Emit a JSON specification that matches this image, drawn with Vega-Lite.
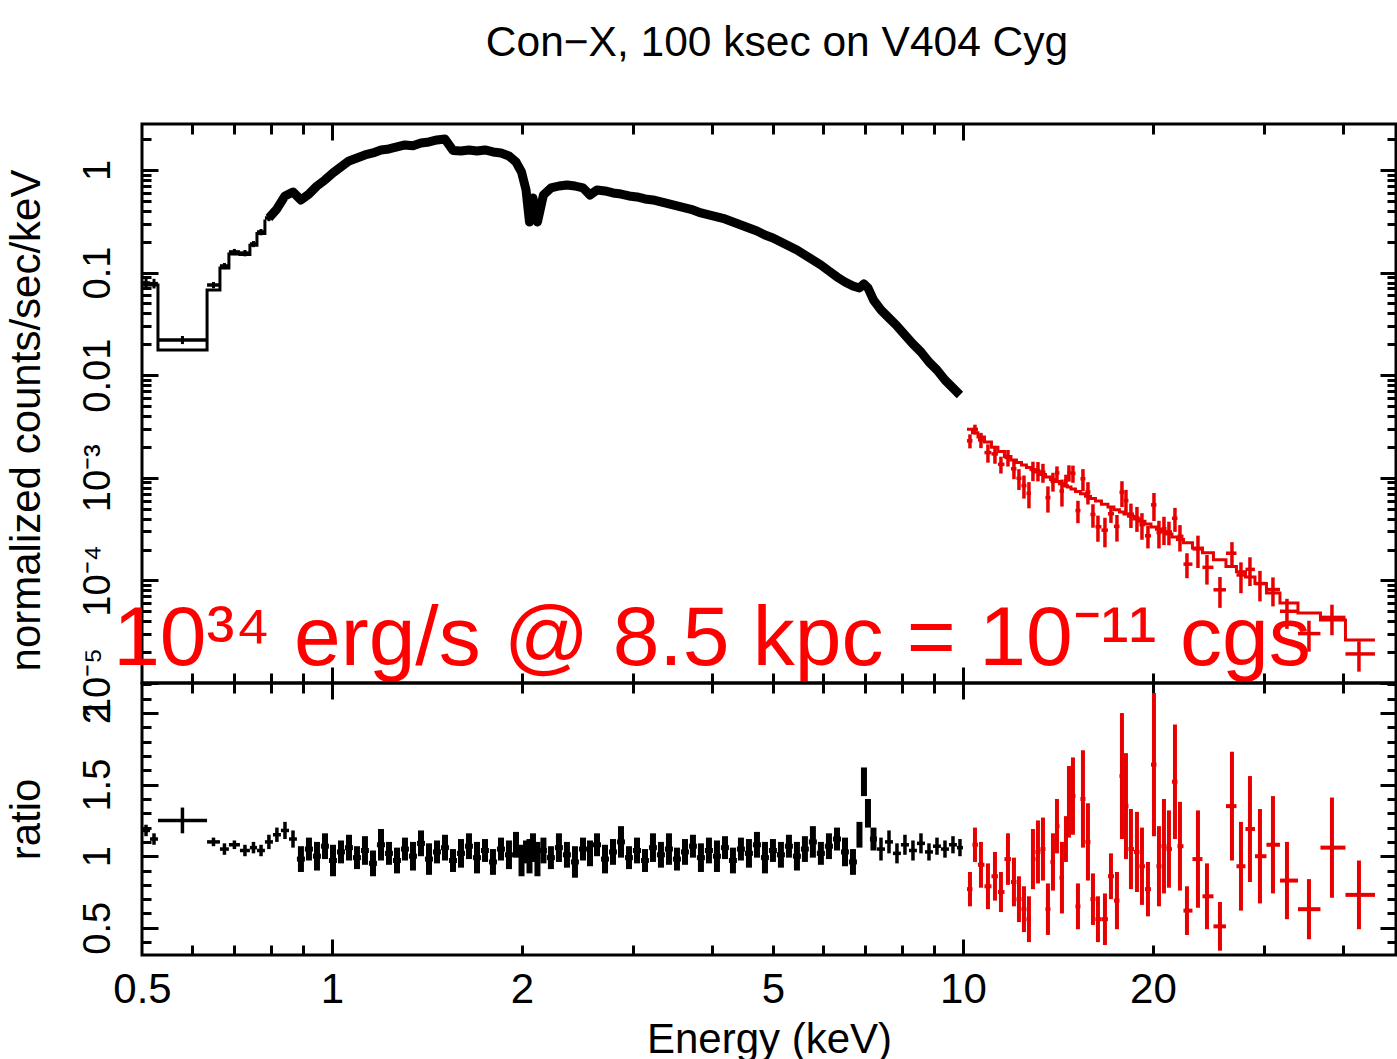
{
  "$schema": "https://vega.github.io/schema/vega-lite/v6.json",
  "background": "white",
  "padding": {"left": 3, "top": 20, "right": 0, "bottom": 0},
  "config": {
    "view": {"stroke": "black", "strokeWidth": 3},
    "font": "Liberation Sans",
    "axis": {"domain": false, "grid": false, "tickColor": "black", "tickWidth": 3, "tickCap": "butt", "labelColor": "black", "titleColor": "black", "labelFont": "Liberation Sans", "titleFont": "Liberation Sans", "labelFontSize": 38, "titleFontSize": 42, "titleFontWeight": "normal", "labelOverlap": false, "labelFlush": false}
  },
  "datasets": {
    "black": [
      {"el":0.5,"eh":0.5148,"e":0.5074,"f":0.0792,"fl":0.0708,"fh":0.089,"m":0.0757,"r":1.18,"rl":1.14,"rh":1.22},
      {"el":0.5148,"eh":0.53,"e":0.5224,"f":0.078,"fl":0.07,"fh":0.087,"m":0.0757,"r":1.12,"rl":1.08,"rh":1.16},
      {"el":0.53,"eh":0.634,"e":0.5795,"f":0.022,"fl":0.0201,"fh":0.0241,"m":0.0176,"r":1.25,"rl":1.16,"rh":1.34},
      {"el":0.634,"eh":0.6645,"e":0.649,"f":0.0757,"fl":0.0704,"fh":0.081,"m":0.0677,"r":1.1,"rl":1.07,"rh":1.13},
      {"el":0.6645,"eh":0.6866,"e":0.6755,"f":0.116,"fl":0.108,"fh":0.124,"m":0.111,"r":1.05,"rl":1.01,"rh":1.09},
      {"el":0.6866,"eh":0.7148,"e":0.7005,"f":0.159,"fl":0.148,"fh":0.17,"m":0.152,"r":1.08,"rl":1.05,"rh":1.11},
      {"el":0.7148,"eh":0.7413,"e":0.728,"f":0.155,"fl":0.144,"fh":0.166,"m":0.15,"r":1.04,"rl":1.0,"rh":1.08},
      {"el":0.7413,"eh":0.7606,"e":0.751,"f":0.19,"fl":0.177,"fh":0.203,"m":0.185,"r":1.06,"rl":1.02,"rh":1.1},
      {"el":0.7606,"eh":0.783,"e":0.772,"f":0.2487,"fl":0.231,"fh":0.266,"m":0.24,"r":1.04,"rl":1.0,"rh":1.08},
      {"el":0.783,"eh":0.8063,"e":0.7945,"f":0.3404,"fl":0.317,"fh":0.364,"m":0.33,"r":1.1,"rl":1.05,"rh":1.15},
      {"el":0.8063,"eh":0.8301,"e":0.818,"f":0.4169,"r":1.15,"rl":1.1,"rh":1.2},
      {"el":0.8301,"eh":0.8549,"e":0.8425,"f":0.558,"r":1.18,"rl":1.12,"rh":1.24},
      {"el":0.8549,"eh":0.88,"e":0.8675,"f":0.61,"r":1.12,"rl":1.06,"rh":1.18},
      {"el":0.88,"eh":0.906,"e":0.893,"f":0.51,"r":0.98,"rl":0.89,"rh":1.07},
      {"el":0.906,"eh":0.933,"e":0.9195,"f":0.583,"r":1.05,"rl":0.97,"rh":1.13},
      {"el":0.933,"eh":0.9606,"e":0.9468,"f":0.698,"r":1.0,"rl":0.9,"rh":1.1},
      {"el":0.9606,"eh":0.9891,"e":0.9749,"f":0.799,"r":1.07,"rl":0.98,"rh":1.16},
      {"el":0.9891,"eh":1.0184,"e":1.0038,"f":0.935,"r":0.97,"rl":0.86,"rh":1.08},
      {"el":1.0184,"eh":1.0486,"e":1.0335,"f":1.07,"r":1.03,"rl":0.95,"rh":1.11},
      {"el":1.0486,"eh":1.0796,"e":1.0641,"f":1.224,"r":1.06,"rl":0.97,"rh":1.15},
      {"el":1.0796,"eh":1.1116,"e":1.0956,"f":1.309,"r":0.99,"rl":0.91,"rh":1.07},
      {"el":1.1116,"eh":1.1445,"e":1.128,"f":1.4,"r":1.04,"rl":0.94,"rh":1.14},
      {"el":1.1445,"eh":1.1784,"e":1.1615,"f":1.464,"r":0.95,"rl":0.86,"rh":1.04},
      {"el":1.1784,"eh":1.2134,"e":1.1959,"f":1.566,"r":1.08,"rl":0.97,"rh":1.19},
      {"el":1.2134,"eh":1.2493,"e":1.2313,"f":1.602,"r":1.02,"rl":0.94,"rh":1.1},
      {"el":1.2493,"eh":1.2863,"e":1.2678,"f":1.676,"r":0.97,"rl":0.88,"rh":1.06},
      {"el":1.2863,"eh":1.3244,"e":1.3053,"f":1.752,"r":1.05,"rl":0.97,"rh":1.13},
      {"el":1.3244,"eh":1.3637,"e":1.344,"f":1.72,"r":1.0,"rl":0.9,"rh":1.1},
      {"el":1.3637,"eh":1.4041,"e":1.3839,"f":1.833,"r":1.09,"rl":1.0,"rh":1.18},
      {"el":1.4041,"eh":1.4457,"e":1.4249,"f":1.875,"r":0.98,"rl":0.87,"rh":1.09},
      {"el":1.4457,"eh":1.4885,"e":1.4671,"f":1.961,"r":1.03,"rl":0.95,"rh":1.11},
      {"el":1.4885,"eh":1.5326,"e":1.5105,"f":2.0,"r":1.06,"rl":0.97,"rh":1.15},
      {"el":1.5326,"eh":1.578,"e":1.5553,"f":1.55,"r":0.97,"rl":0.89,"rh":1.05},
      {"el":1.578,"eh":1.6247,"e":1.6013,"f":1.53,"r":1.02,"rl":0.92,"rh":1.12},
      {"el":1.6247,"eh":1.6728,"e":1.6487,"f":1.566,"r":1.07,"rl":0.98,"rh":1.16},
      {"el":1.6728,"eh":1.7224,"e":1.6976,"f":1.53,"r":0.99,"rl":0.88,"rh":1.1},
      {"el":1.7224,"eh":1.7734,"e":1.7479,"f":1.566,"r":1.04,"rl":0.96,"rh":1.12},
      {"el":1.7734,"eh":1.8259,"e":1.7996,"f":1.498,"r":0.96,"rl":0.87,"rh":1.05},
      {"el":1.8259,"eh":1.88,"e":1.853,"f":1.464,"r":1.05,"rl":0.97,"rh":1.13},
      {"el":1.88,"eh":1.9357,"e":1.9078,"f":1.369,"r":1.01,"rl":0.91,"rh":1.11},
      {"el":1.9357,"eh":1.9787,"e":1.9572,"f":1.197,"r":1.08,"rl":0.99,"rh":1.17},
      {"el":1.9787,"eh":2.0157,"e":1.9972,"f":0.956,"r":0.97,"rl":0.86,"rh":1.08},
      {"el":2.0157,"eh":2.0451,"e":2.0304,"f":0.638,"r":1.03,"rl":0.95,"rh":1.11},
      {"el":2.0451,"eh":2.0674,"e":2.0562,"f":0.3113,"r":1.0,"rl":0.88,"rh":1.12},
      {"el":2.0674,"eh":2.0975,"e":2.0824,"f":0.5334,"r":1.06,"rl":0.96,"rh":1.16},
      {"el":2.0975,"eh":2.136,"e":2.1167,"f":0.311,"r":0.98,"rl":0.86,"rh":1.1},
      {"el":2.136,"eh":2.191,"e":2.1635,"f":0.5706,"r":1.04,"rl":0.95,"rh":1.13},
      {"el":2.191,"eh":2.256,"e":2.2235,"f":0.6677,"r":0.99,"rl":0.91,"rh":1.07},
      {"el":2.256,"eh":2.3228,"e":2.2894,"f":0.698,"r":1.06,"rl":0.96,"rh":1.16},
      {"el":2.3228,"eh":2.3918,"e":2.3573,"f":0.714,"r":1.01,"rl":0.92,"rh":1.1},
      {"el":2.3918,"eh":2.4628,"e":2.4273,"f":0.698,"r":0.96,"rl":0.85,"rh":1.07},
      {"el":2.4628,"eh":2.5358,"e":2.4993,"f":0.668,"r":1.05,"rl":0.97,"rh":1.13},
      {"el":2.5358,"eh":2.5921,"e":2.564,"f":0.57,"r":1.02,"rl":0.93,"rh":1.11},
      {"el":2.5921,"eh":2.6691,"e":2.6306,"f":0.638,"r":1.08,"rl":1.0,"rh":1.16},
      {"el":2.6691,"eh":2.748,"e":2.7086,"f":0.624,"r":0.98,"rl":0.88,"rh":1.08},
      {"el":2.748,"eh":2.8293,"e":2.7887,"f":0.597,"r":1.03,"rl":0.94,"rh":1.12},
      {"el":2.8293,"eh":2.9132,"e":2.8713,"f":0.583,"r":1.1,"rl":0.99,"rh":1.21},
      {"el":2.9132,"eh":2.999,"e":2.9561,"f":0.558,"r":0.99,"rl":0.91,"rh":1.07},
      {"el":2.999,"eh":3.0884,"e":3.0437,"f":0.5455,"r":1.04,"rl":0.95,"rh":1.13},
      {"el":3.0884,"eh":3.1795,"e":3.134,"f":0.5216,"r":0.97,"rl":0.89,"rh":1.05},
      {"el":3.1795,"eh":3.2734,"e":3.2265,"f":0.51,"r":1.06,"rl":0.96,"rh":1.16},
      {"el":3.2734,"eh":3.3705,"e":3.322,"f":0.4877,"r":1.01,"rl":0.92,"rh":1.1},
      {"el":3.3705,"eh":3.4704,"e":3.4205,"f":0.4662,"r":1.05,"rl":0.94,"rh":1.16},
      {"el":3.4704,"eh":3.5733,"e":3.5219,"f":0.4457,"r":0.98,"rl":0.9,"rh":1.06},
      {"el":3.5733,"eh":3.6792,"e":3.6263,"f":0.4262,"r":1.03,"rl":0.94,"rh":1.12},
      {"el":3.6792,"eh":3.7876,"e":3.7334,"f":0.4075,"r":1.07,"rl":0.99,"rh":1.15},
      {"el":3.7876,"eh":3.9,"e":3.8438,"f":0.381,"r":0.99,"rl":0.89,"rh":1.09},
      {"el":3.9,"eh":4.0157,"e":3.9579,"f":0.3643,"r":1.04,"rl":0.95,"rh":1.13},
      {"el":4.0157,"eh":4.1348,"e":4.0753,"f":0.3483,"r":1.0,"rl":0.89,"rh":1.11},
      {"el":4.1348,"eh":4.2575,"e":4.1962,"f":0.333,"r":1.06,"rl":0.98,"rh":1.14},
      {"el":4.2575,"eh":4.3829,"e":4.3202,"f":0.3113,"r":0.97,"rl":0.88,"rh":1.06},
      {"el":4.3829,"eh":4.5128,"e":4.4479,"f":0.291,"r":1.05,"rl":0.97,"rh":1.13},
      {"el":4.5128,"eh":4.6467,"e":4.5798,"f":0.272,"r":1.02,"rl":0.92,"rh":1.12},
      {"el":4.6467,"eh":4.7846,"e":4.7157,"f":0.2543,"r":1.08,"rl":0.99,"rh":1.17},
      {"el":4.7846,"eh":4.9264,"e":4.8555,"f":0.2325,"r":0.99,"rl":0.88,"rh":1.1},
      {"el":4.9264,"eh":5.0715,"e":4.999,"f":0.2174,"r":1.04,"rl":0.96,"rh":1.12},
      {"el":5.0715,"eh":5.222,"e":5.1468,"f":0.1987,"r":1.01,"rl":0.92,"rh":1.1},
      {"el":5.222,"eh":5.3768,"e":5.2994,"f":0.1817,"r":1.07,"rl":0.99,"rh":1.15},
      {"el":5.3768,"eh":5.536,"e":5.4564,"f":0.1661,"r":1.0,"rl":0.9,"rh":1.1},
      {"el":5.536,"eh":5.6989,"e":5.6175,"f":0.1484,"r":1.05,"rl":0.96,"rh":1.14},
      {"el":5.6989,"eh":5.868,"e":5.7835,"f":0.1327,"r":1.1,"rl":0.99,"rh":1.21},
      {"el":5.868,"eh":6.0419,"e":5.955,"f":0.1186,"r":1.02,"rl":0.94,"rh":1.1},
      {"el":6.0419,"eh":6.223,"e":6.1325,"f":0.1036,"r":1.07,"rl":0.98,"rh":1.16},
      {"el":6.223,"eh":6.4077,"e":6.3154,"f":0.0906,"r":1.12,"rl":1.04,"rh":1.2},
      {"el":6.4077,"eh":6.5962,"e":6.502,"f":0.081,"r":1.03,"rl":0.93,"rh":1.13},
      {"el":6.5962,"eh":6.792,"e":6.6941,"f":0.074,"r":0.96,"rl":0.87,"rh":1.05},
      {"el":6.792,"eh":6.9171,"e":6.8546,"f":0.0708,"r":1.15,"rl":1.06,"rh":1.24},
      {"el":6.9171,"eh":7.0193,"e":6.9682,"f":0.0774,"r":1.52,"rl":1.42,"rh":1.62},
      {"el":7.0193,"eh":7.122,"e":7.0707,"f":0.0708,"r":1.3,"rl":1.2,"rh":1.4},
      {"el":7.122,"eh":7.3065,"e":7.2143,"f":0.0541,"r":1.12,"rl":1.04,"rh":1.2},
      {"el":7.3065,"eh":7.5233,"e":7.4149,"f":0.0432,"r":1.05,"rl":0.97,"rh":1.13},
      {"el":7.5233,"eh":7.746,"e":7.6347,"f":0.0361,"r":1.1,"rl":1.02,"rh":1.18},
      {"el":7.746,"eh":7.974,"e":7.86,"f":0.0302,"r":1.02,"rl":0.95,"rh":1.09},
      {"el":7.974,"eh":8.211,"e":8.0925,"f":0.02465,"r":1.08,"rl":1.01,"rh":1.15},
      {"el":8.211,"eh":8.454,"e":8.3325,"f":0.02014,"r":1.04,"rl":0.97,"rh":1.11},
      {"el":8.454,"eh":8.705,"e":8.5795,"f":0.01683,"r":1.09,"rl":1.02,"rh":1.16},
      {"el":8.705,"eh":8.963,"e":8.834,"f":0.01345,"r":1.03,"rl":0.97,"rh":1.09},
      {"el":8.963,"eh":9.228,"e":9.0955,"f":0.01124,"r":1.07,"rl":1.01,"rh":1.13},
      {"el":9.228,"eh":9.502,"e":9.365,"f":0.00898,"r":1.05,"rl":0.99,"rh":1.11},
      {"el":9.502,"eh":9.783,"e":9.6425,"f":0.0075,"r":1.08,"rl":1.02,"rh":1.14},
      {"el":9.783,"eh":10.0,"e":9.8915,"f":0.00641,"r":1.06,"rl":1.0,"rh":1.12}
    ],
    "red": [
      {"el":10.147,"eh":10.353,"e":10.259,"f":0.002292,"fl":0.001935,"fh":0.00265,"m":0.002977,"r":0.77,"rl":0.65,"rh":0.89},
      {"el":10.353,"eh":10.563,"e":10.448,"f":0.002965,"fl":0.002635,"fh":0.003294,"m":0.002745,"r":1.08,"rl":0.96,"rh":1.2},
      {"el":10.563,"eh":10.816,"e":10.679,"f":0.002343,"fl":0.001945,"fh":0.002742,"m":0.002493,"r":0.94,"rl":0.78,"rh":1.1},
      {"el":10.816,"eh":11.096,"e":10.955,"f":0.00176,"fl":0.001404,"fh":0.002117,"m":0.002228,"r":0.79,"rl":0.63,"rh":0.95},
      {"el":11.096,"eh":11.362,"e":11.239,"f":0.001709,"fl":0.001371,"fh":0.002047,"m":0.001987,"r":0.86,"rl":0.69,"rh":1.03},
      {"el":11.362,"eh":11.635,"e":11.487,"f":0.001353,"fl":0.0011,"fh":0.001606,"m":0.001804,"r":0.75,"rl":0.61,"rh":0.89},
      {"el":11.635,"eh":11.914,"e":11.785,"f":0.001577,"fl":0.001287,"fh":0.001866,"m":0.001609,"r":0.98,"rl":0.8,"rh":1.16},
      {"el":11.914,"eh":12.156,"e":12.045,"f":0.001223,"fl":0.000969,"fh":0.001476,"m":0.001491,"r":0.82,"rl":0.65,"rh":0.99},
      {"el":12.156,"eh":12.38,"e":12.267,"f":0.000987,"fl":0.000761,"fh":0.001213,"m":0.00141,"r":0.7,"rl":0.54,"rh":0.86},
      {"el":12.38,"eh":12.607,"e":12.493,"f":0.00084,"fl":0.000627,"fh":0.001053,"m":0.001333,"r":0.63,"rl":0.47,"rh":0.79},
      {"el":12.607,"eh":12.816,"e":12.723,"f":0.000706,"fl":0.000504,"fh":0.000907,"m":0.00126,"r":0.56,"rl":0.4,"rh":0.72},
      {"el":12.816,"eh":13.028,"e":12.91,"f":0.001181,"fl":0.000928,"fh":0.001434,"m":0.001205,"r":0.98,"rl":0.77,"rh":1.19},
      {"el":13.028,"eh":13.268,"e":13.148,"f":0.001173,"fl":0.000923,"fh":0.001424,"m":0.001139,"r":1.03,"rl":0.81,"rh":1.25},
      {"el":13.268,"eh":13.513,"e":13.39,"f":0.001131,"fl":0.000894,"fh":0.001368,"m":0.001077,"r":1.05,"rl":0.83,"rh":1.27},
      {"el":13.513,"eh":13.761,"e":13.636,"f":0.000641,"fl":0.000458,"fh":0.000825,"m":0.001018,"r":0.63,"rl":0.45,"rh":0.81},
      {"el":13.761,"eh":13.989,"e":13.888,"f":0.000926,"fl":0.000733,"fh":0.001119,"m":0.0009647,"r":0.96,"rl":0.76,"rh":1.16},
      {"el":13.989,"eh":14.221,"e":14.092,"f":0.001116,"fl":0.000941,"fh":0.001291,"m":0.0009224,"r":1.21,"rl":1.02,"rh":1.4},
      {"el":14.221,"eh":14.456,"e":14.351,"f":0.000743,"fl":0.000524,"fh":0.000961,"m":0.0008739,"r":0.85,"rl":0.6,"rh":1.1},
      {"el":14.456,"eh":14.642,"e":14.562,"f":0.000938,"fl":0.000804,"fh":0.001072,"m":0.0008375,"r":1.12,"rl":0.96,"rh":1.28},
      {"el":14.642,"eh":14.83,"e":14.723,"f":0.00112,"fl":0.000917,"fh":0.001323,"m":0.0008117,"r":1.38,"rl":1.13,"rh":1.63},
      {"el":14.83,"eh":15.076,"e":14.939,"f":0.001104,"fl":0.000894,"fh":0.001314,"m":0.0007777,"r":1.42,"rl":1.15,"rh":1.69},
      {"el":15.076,"eh":15.353,"e":15.214,"f":0.000479,"fl":0.000361,"fh":0.000597,"m":0.0007369,"r":0.65,"rl":0.49,"rh":0.81},
      {"el":15.353,"eh":15.636,"e":15.494,"f":0.000978,"fl":0.00074,"fh":0.001215,"m":0.0006983,"r":1.4,"rl":1.06,"rh":1.74},
      {"el":15.636,"eh":15.924,"e":15.779,"f":0.000728,"fl":0.000549,"fh":0.000906,"m":0.0006616,"r":1.1,"rl":0.83,"rh":1.37},
      {"el":15.924,"eh":16.217,"e":16.07,"f":0.000439,"fl":0.000326,"fh":0.000552,"m":0.000627,"r":0.7,"rl":0.52,"rh":0.88},
      {"el":16.217,"eh":16.576,"e":16.366,"f":0.000333,"fl":0.000238,"fh":0.000428,"m":0.0005941,"r":0.56,"rl":0.4,"rh":0.72},
      {"el":16.576,"eh":16.974,"e":16.789,"f":0.000309,"fl":0.00021,"fh":0.000408,"m":0.0005515,"r":0.56,"rl":0.38,"rh":0.74},
      {"el":16.974,"eh":17.35,"e":17.161,"f":0.000446,"fl":0.000363,"fh":0.000528,"m":0.0005181,"r":0.86,"rl":0.7,"rh":1.02},
      {"el":17.35,"eh":17.702,"e":17.541,"f":0.000336,"fl":0.000239,"fh":0.000434,"m":0.0004876,"r":0.69,"rl":0.49,"rh":0.89},
      {"el":17.702,"eh":17.995,"e":17.864,"f":0.000722,"fl":0.000519,"fh":0.000926,"m":0.000463,"r":1.56,"rl":1.12,"rh":2.0},
      {"el":17.995,"eh":18.293,"e":18.127,"f":0.000599,"fl":0.000435,"fh":0.000763,"m":0.0004437,"r":1.35,"rl":0.98,"rh":1.72},
      {"el":18.293,"eh":18.664,"e":18.46,"f":0.000442,"fl":0.000324,"fh":0.00056,"m":0.0004214,"r":1.05,"rl":0.77,"rh":1.33},
      {"el":18.664,"eh":19.042,"e":18.869,"f":0.000408,"fl":0.000297,"fh":0.00052,"m":0.0003966,"r":1.03,"rl":0.75,"rh":1.31},
      {"el":19.042,"eh":19.428,"e":19.217,"f":0.00035,"fl":0.000249,"fh":0.000452,"m":0.0003767,"r":0.93,"rl":0.66,"rh":1.2},
      {"el":19.428,"eh":19.858,"e":19.642,"f":0.000272,"fl":0.000205,"fh":0.00034,"m":0.0003537,"r":0.77,"rl":0.58,"rh":0.96},
      {"el":19.858,"eh":20.261,"e":20.077,"f":0.000545,"fl":0.000379,"fh":0.000711,"m":0.0003321,"r":1.64,"rl":1.14,"rh":2.14},
      {"el":20.261,"eh":20.634,"e":20.446,"f":0.000293,"fl":0.000205,"fh":0.000381,"m":0.0003147,"r":0.93,"rl":0.65,"rh":1.21},
      {"el":20.634,"eh":21.014,"e":20.823,"f":0.000319,"fl":0.000221,"fh":0.000417,"m":0.0002982,"r":1.07,"rl":0.74,"rh":1.4},
      {"el":21.014,"eh":21.44,"e":21.206,"f":0.000297,"fl":0.00022,"fh":0.000373,"m":0.0002826,"r":1.05,"rl":0.78,"rh":1.32},
      {"el":21.44,"eh":21.874,"e":21.676,"f":0.000403,"fl":0.000297,"fh":0.000509,"m":0.0002649,"r":1.52,"rl":1.12,"rh":1.92},
      {"el":21.874,"eh":22.359,"e":22.075,"f":0.000269,"fl":0.000191,"fh":0.000346,"m":0.000251,"r":1.07,"rl":0.76,"rh":1.38},
      {"el":22.359,"eh":23.105,"e":22.646,"f":0.000144,"fl":0.000105,"fh":0.000184,"m":0.0002325,"r":0.62,"rl":0.45,"rh":0.79},
      {"el":23.105,"eh":23.964,"e":23.574,"f":0.000203,"fl":0.000132,"fh":0.000273,"m":0.0002069,"r":0.98,"rl":0.64,"rh":1.32},
      {"el":23.964,"eh":24.945,"e":24.361,"f":0.000134,"fl":0.000091,"fh":0.000177,"m":0.0001858,"r":0.72,"rl":0.49,"rh":0.95},
      {"el":24.945,"eh":26.11,"e":25.544,"f":0.000081,"fl":0.000054,"fh":0.000108,"m":0.0001588,"r":0.51,"rl":0.34,"rh":0.68},
      {"el":26.11,"eh":27.129,"e":26.688,"f":0.000184,"fl":0.000133,"fh":0.000236,"m":0.0001366,"r":1.35,"rl":0.97,"rh":1.73},
      {"el":27.129,"eh":28.035,"e":27.579,"f":0.000113,"fl":0.000075,"fh":0.00015,"m":0.0001213,"r":0.93,"rl":0.62,"rh":1.24},
      {"el":28.035,"eh":29.024,"e":28.499,"f":0.000128,"fl":0.000088,"fh":0.000168,"m":0.0001077,"r":1.19,"rl":0.82,"rh":1.56},
      {"el":29.024,"eh":30.268,"e":29.558,"f":0.0000931,"fl":0.0000624,"fh":0.0001238,"m":0.00009307,"r":1.0,"rl":0.67,"rh":1.33},
      {"el":30.268,"eh":31.796,"e":30.994,"f":0.0000814,"fl":0.0000558,"fh":0.000107,"m":0.00007538,"r":1.08,"rl":0.74,"rh":1.42},
      {"el":31.796,"eh":33.955,"e":32.619,"f":0.00005,"fl":0.0000337,"fh":0.0000662,"m":0.00006021,"r":0.83,"rl":0.56,"rh":1.1},
      {"el":33.955,"eh":36.86,"e":35.345,"f":0.0000303,"fl":0.0000202,"fh":0.0000404,"m":0.00004812,"r":0.63,"rl":0.42,"rh":0.84},
      {"el":36.86,"eh":40.381,"e":38.44,"f":0.0000436,"fl":0.0000292,"fh":0.000058,"m":0.00004111,"r":1.06,"rl":0.71,"rh":1.41},
      {"el":40.381,"eh":44.971,"e":42.419,"f":0.0000192,"fl":0.0000129,"fh":0.0000255,"m":0.00002625,"r":0.73,"rl":0.49,"rh":0.97},
      {"el":44.971,"m":0.00002625}
    ]
  },
  "spacing": 0,
  "bounds": "flush",
  "vconcat": [
    {
      "width": 1254,
      "height": 559,
      "title": {"text": "Con−X, 100 ksec on V404 Cyg", "anchor": "middle", "frame": "group", "fontSize": 42.5, "fontWeight": "normal", "font": "Liberation Sans", "color": "black", "baseline": "bottom", "offset": 15, "dx": 8},
      "resolve": {"axis": {"x": "independent", "y": "independent"}},
      "layer": [
        {
          "data": {"name": "black"},
          "transform": [{"filter": "isValid(datum.m)"}],
          "mark": {"type": "line", "interpolate": "step-after", "color": "black", "strokeWidth": 3, "clip": true},
          "encoding": {
            "x": {"field": "el", "type": "quantitative", "scale": {"type": "log", "domain": [0.5, 48.56], "nice": false}, "axis": {"orient": "bottom", "values": [1, 10], "tickSize": -16, "labels": false, "title": null}},
            "y": {"field": "m", "type": "quantitative", "scale": {"type": "log", "domain": [0.00001, 2.806], "nice": false}, "axis": {"orient": "left", "values": [0.00001, 0.0001, 0.001, 0.01, 0.1, 1], "tickSize": -16, "labelAngle": 270, "labelAlign": "center", "labelBaseline": "bottom", "labelPadding": 41, "labelExpr": "datum.value > 0.5 ? '1' : datum.value > 0.05 ? '0.1' : datum.value > 0.005 ? '0.01' : datum.value > 0.0005 ? '10⁻³' : datum.value > 0.00005 ? '10⁻⁴' : '10⁻⁵'", "title": "normalized counts/sec/keV", "titlePadding": 34, "minExtent": 60, "maxExtent": 60, "titleY": 296}}
          }
        },
        {
          "data": {"name": "black"},
          "transform": [{"filter": "datum.e >= 0.79"}],
          "mark": {"type": "line", "color": "black", "strokeWidth": 9, "strokeJoin": "round", "clip": true},
          "encoding": {
            "x": {"field": "e", "type": "quantitative", "scale": {"type": "log", "domain": [0.5, 48.56], "nice": false}, "axis": {"orient": "bottom", "values": [0.6, 0.7, 0.8, 0.9, 2, 3, 4, 5, 6, 7, 8, 9, 20, 30, 40], "tickSize": -10, "labels": false, "title": null}},
            "y": {"field": "f", "type": "quantitative", "scale": {"type": "log", "domain": [0.00001, 2.806], "nice": false}, "axis": {"orient": "left", "values": [0.00002, 0.00003, 0.00004, 0.00005, 0.00006, 0.00007, 0.00008, 0.00009, 0.0002, 0.0003, 0.0004, 0.0005, 0.0006, 0.0007, 0.0008, 0.0009, 0.002, 0.003, 0.004, 0.005, 0.006, 0.007, 0.008, 0.009, 0.02, 0.03, 0.04, 0.05, 0.06, 0.07, 0.08, 0.09, 0.2, 0.3, 0.4, 0.5, 0.6, 0.7, 0.8, 0.9, 2], "tickSize": -9, "labels": false, "title": null}}
          }
        },
        {
          "data": {"name": "black"},
          "transform": [{"filter": "isValid(datum.fl)"}],
          "mark": {"type": "rule", "color": "black", "strokeWidth": 3, "clip": true},
          "encoding": {
            "x": {"field": "e", "type": "quantitative", "scale": {"type": "log", "domain": [0.5, 48.56], "nice": false}, "axis": {"orient": "top", "values": [1, 10], "tickSize": -16, "labels": false, "title": null}},
            "y": {"field": "fl", "type": "quantitative", "scale": {"type": "log", "domain": [0.00001, 2.806], "nice": false}, "axis": {"orient": "right", "values": [0.00001, 0.0001, 0.001, 0.01, 0.1, 1], "tickSize": -16, "labels": false, "title": null}},
            "y2": {"field": "fh"}
          }
        },
        {
          "data": {"name": "black"},
          "transform": [{"filter": "isValid(datum.fl)"}],
          "mark": {"type": "rule", "color": "black", "strokeWidth": 3.5, "clip": true},
          "encoding": {
            "x": {"field": "el", "type": "quantitative", "scale": {"type": "log", "domain": [0.5, 48.56], "nice": false}, "axis": {"orient": "top", "values": [0.6, 0.7, 0.8, 0.9, 2, 3, 4, 5, 6, 7, 8, 9, 20, 30, 40], "tickSize": -10, "labels": false, "title": null}},
            "x2": {"field": "eh"},
            "y": {"field": "f", "type": "quantitative", "scale": {"type": "log", "domain": [0.00001, 2.806], "nice": false}, "axis": {"orient": "right", "values": [0.00002, 0.00003, 0.00004, 0.00005, 0.00006, 0.00007, 0.00008, 0.00009, 0.0002, 0.0003, 0.0004, 0.0005, 0.0006, 0.0007, 0.0008, 0.0009, 0.002, 0.003, 0.004, 0.005, 0.006, 0.007, 0.008, 0.009, 0.02, 0.03, 0.04, 0.05, 0.06, 0.07, 0.08, 0.09, 0.2, 0.3, 0.4, 0.5, 0.6, 0.7, 0.8, 0.9, 2], "tickSize": -9, "labels": false, "title": null}}
          }
        },
        {
          "data": {"name": "red"},
          "transform": [{"filter": "isValid(datum.m)"}],
          "mark": {"type": "line", "interpolate": "step-after", "color": "#e60000", "strokeWidth": 3, "clip": true},
          "encoding": {
            "x": {"field": "el", "type": "quantitative", "scale": {"type": "log", "domain": [0.5, 48.56], "nice": false}, "axis": null},
            "y": {"field": "m", "type": "quantitative", "scale": {"type": "log", "domain": [0.00001, 2.806], "nice": false}, "axis": null}
          }
        },
        {
          "data": {"name": "red"},
          "transform": [{"filter": "isValid(datum.fl)"}],
          "mark": {"type": "rule", "color": "#e60000", "strokeWidth": 3.5, "clip": true},
          "encoding": {
            "x": {"field": "e", "type": "quantitative", "scale": {"type": "log", "domain": [0.5, 48.56], "nice": false}, "axis": null},
            "y": {"field": "fl", "type": "quantitative", "scale": {"type": "log", "domain": [0.00001, 2.806], "nice": false}, "axis": null},
            "y2": {"field": "fh"}
          }
        },
        {
          "data": {"name": "red"},
          "transform": [{"filter": "isValid(datum.fl)"}],
          "mark": {"type": "rule", "color": "#e60000", "strokeWidth": 3.5, "clip": true},
          "encoding": {
            "x": {"field": "el", "type": "quantitative", "scale": {"type": "log", "domain": [0.5, 48.56], "nice": false}, "axis": null},
            "x2": {"field": "eh"},
            "y": {"field": "f", "type": "quantitative", "scale": {"type": "log", "domain": [0.00001, 2.806], "nice": false}, "axis": null}
          }
        },
        {
          "data": {"values": [{"e": 0.45, "f": 0.00001498, "t": "10³⁴ erg/s @ 8.5 kpc = 10⁻¹¹ cgs"}]},
          "mark": {"type": "text", "align": "left", "baseline": "alphabetic", "fontSize": 84, "font": "Liberation Sans", "color": "#ff0000"},
          "encoding": {
            "x": {"field": "e", "type": "quantitative", "scale": {"type": "log", "domain": [0.5, 48.56], "nice": false}, "axis": null},
            "y": {"field": "f", "type": "quantitative", "scale": {"type": "log", "domain": [0.00001, 2.806], "nice": false}, "axis": null},
            "text": {"field": "t"}
          }
        }
      ]
    },
    {
      "width": 1254,
      "height": 272,
      "resolve": {"axis": {"x": "independent", "y": "independent"}},
      "layer": [
        {
          "data": {"name": "black"},
          "transform": [{"filter": "isValid(datum.r)"}],
          "mark": {"type": "rule", "color": "black", "clip": true},
          "encoding": {
            "x": {"field": "e", "type": "quantitative", "scale": {"type": "log", "domain": [0.5, 48.56], "nice": false}, "axis": {"orient": "bottom", "values": [0.5, 1, 2, 5, 10, 20], "ticks": false, "tickSize": 0, "labelPadding": 14, "labelFontSize": 42, "format": "~g", "title": "Energy (keV)", "titlePadding": 10, "minExtent": 54, "maxExtent": 54}},
            "y": {"field": "rl", "type": "quantitative", "scale": {"type": "linear", "domain": [0.31, 2.21], "nice": false, "zero": false}, "axis": {"orient": "left", "values": [0.5, 1, 1.5, 2], "tickSize": -16, "labelAngle": 270, "labelAlign": "center", "labelBaseline": "bottom", "labelPadding": 41, "format": "~g", "title": "ratio", "titlePadding": 34, "minExtent": 60, "maxExtent": 60}},
            "y2": {"field": "rh"},
            "strokeWidth": {"condition": {"test": "datum.e > 0.88 && datum.e < 7.3", "value": 6}, "value": 3.5}
          }
        },
        {
          "data": {"name": "black"},
          "transform": [{"filter": "isValid(datum.r)"}],
          "mark": {"type": "rule", "color": "black", "clip": true},
          "encoding": {
            "x": {"field": "el", "type": "quantitative", "scale": {"type": "log", "domain": [0.5, 48.56], "nice": false}, "axis": {"orient": "bottom", "values": [1, 10], "tickSize": -16, "labels": false, "title": null}},
            "x2": {"field": "eh"},
            "y": {"field": "r", "type": "quantitative", "scale": {"type": "linear", "domain": [0.31, 2.21], "nice": false, "zero": false}, "axis": {"orient": "left", "values": [0.4, 0.6, 0.7, 0.8, 0.9, 1.1, 1.2, 1.3, 1.4, 1.6, 1.7, 1.8, 1.9, 2.1, 2.2], "tickSize": -9, "labels": false, "title": null}},
            "strokeWidth": {"condition": {"test": "datum.e > 0.88 && datum.e < 7.3", "value": 5}, "value": 3.5}
          }
        },
        {
          "data": {"name": "red"},
          "transform": [{"filter": "isValid(datum.r)"}],
          "mark": {"type": "rule", "color": "#e60000", "strokeWidth": 4, "clip": true},
          "encoding": {
            "x": {"field": "e", "type": "quantitative", "scale": {"type": "log", "domain": [0.5, 48.56], "nice": false}, "axis": {"orient": "bottom", "values": [0.6, 0.7, 0.8, 0.9, 2, 3, 4, 5, 6, 7, 8, 9, 20, 30, 40], "tickSize": -10, "labels": false, "title": null}},
            "y": {"field": "rl", "type": "quantitative", "scale": {"type": "linear", "domain": [0.31, 2.21], "nice": false, "zero": false}, "axis": {"orient": "right", "values": [0.5, 1, 1.5, 2], "tickSize": -16, "labels": false, "title": null}},
            "y2": {"field": "rh"}
          }
        },
        {
          "data": {"name": "red"},
          "transform": [{"filter": "isValid(datum.r)"}],
          "mark": {"type": "rule", "color": "#e60000", "strokeWidth": 4, "clip": true},
          "encoding": {
            "x": {"field": "el", "type": "quantitative", "scale": {"type": "log", "domain": [0.5, 48.56], "nice": false}, "axis": {"orient": "top", "values": [1, 10], "tickSize": -16, "labels": false, "title": null}},
            "x2": {"field": "eh"},
            "y": {"field": "r", "type": "quantitative", "scale": {"type": "linear", "domain": [0.31, 2.21], "nice": false, "zero": false}, "axis": {"orient": "right", "values": [0.4, 0.6, 0.7, 0.8, 0.9, 1.1, 1.2, 1.3, 1.4, 1.6, 1.7, 1.8, 1.9, 2.1, 2.2], "tickSize": -9, "labels": false, "title": null}}
          }
        },
        {
          "mark": {"type": "rule", "color": "black", "strokeWidth": 3, "strokeDash": [27, 25.3]},
          "encoding": {
            "x": {"datum": 0.5, "type": "quantitative", "scale": {"type": "log", "domain": [0.5, 48.56], "nice": false}, "axis": {"orient": "top", "values": [0.6, 0.7, 0.8, 0.9, 2, 3, 4, 5, 6, 7, 8, 9, 20, 30, 40], "tickSize": -10, "labels": false, "title": null}},
            "x2": {"datum": 48.56},
            "y": {"datum": 1, "type": "quantitative", "scale": {"type": "linear", "domain": [0.31, 2.21], "nice": false, "zero": false}, "axis": null}
          }
        }
      ]
    }
  ]
}
